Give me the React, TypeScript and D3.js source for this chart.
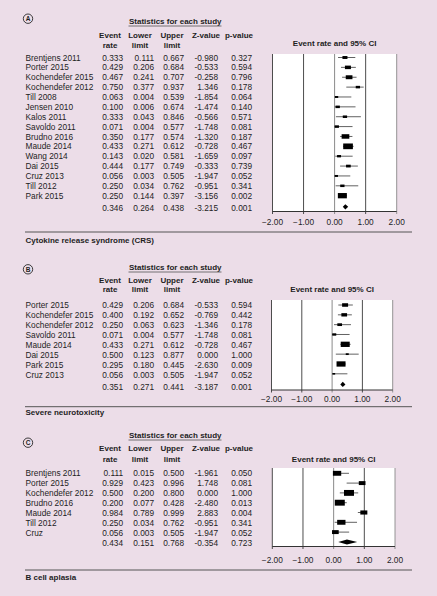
import React from 'react';
import * as d3 from 'd3';

// ---------- Data ----------
const studiesA = ['Brentjens 2011', 'Porter 2015', 'Kochendefer 2015', 'Kochendefer 2012', 'Till 2008', 'Jensen 2010', 'Kalos 2011', 'Savoldo 2011', 'Brudno 2016', 'Maude 2014', 'Wang 2014', 'Dai 2015', 'Cruz 2013', 'Till 2012', 'Park 2015'];
const rateA = [0.333, 0.429, 0.467, 0.75, 0.063, 0.1, 0.333, 0.071, 0.35, 0.433, 0.143, 0.444, 0.056, 0.25, 0.25];
const lowerA = [0.111, 0.206, 0.241, 0.377, 0.004, 0.006, 0.043, 0.004, 0.177, 0.271, 0.02, 0.177, 0.003, 0.034, 0.144];
const upperA = [0.667, 0.684, 0.707, 0.937, 0.539, 0.674, 0.846, 0.577, 0.574, 0.612, 0.581, 0.749, 0.505, 0.762, 0.397];
const zA = [-0.98, -0.533, -0.258, 1.346, -1.854, -1.474, -0.566, -1.748, -1.32, -0.728, -1.659, -0.333, -1.947, -0.951, -3.156];
const pA = [0.327, 0.594, 0.796, 0.178, 0.064, 0.14, 0.571, 0.081, 0.187, 0.467, 0.097, 0.739, 0.052, 0.341, 0.002];
const weightA = [5.0, 7.2, 9.0, 3.7, 2.2, 3.7, 3.7, 3.7, 11.9, 18.9, 3.2, 4.4, 2.2, 3.7, 16.3];
const summaryA = [0.346, 0.264, 0.438, -3.215, 0.001];

const studiesB = ['Porter 2015', 'Kochendefer 2015', 'Kochendefer 2012', 'Savoldo 2011', 'Maude 2014', 'Dai 2015', 'Park 2015', 'Cruz 2013'];
const rateB = [0.429, 0.4, 0.25, 0.071, 0.433, 0.5, 0.295, 0.056];
const lowerB = [0.206, 0.192, 0.063, 0.004, 0.271, 0.123, 0.18, 0.003];
const upperB = [0.684, 0.652, 0.623, 0.577, 0.612, 0.877, 0.445, 0.505];
const zB = [-0.533, -0.769, -1.346, -1.748, -0.728, 0.0, -2.63, -1.947];
const pB = [0.594, 0.442, 0.178, 0.081, 0.467, 1.0, 0.009, 0.052];
const weightB = [7.2, 6.5, 4.4, 3.2, 16.3, 1.8, 16.3, 1.5];
const summaryB = [0.351, 0.271, 0.441, -3.187, 0.001];

const studiesC = ['Brentjens 2011', 'Porter 2015', 'Kochendefer 2012', 'Brudno 2016', 'Maude 2014', 'Till 2012', 'Cruz'];
const rateC = [0.111, 0.929, 0.5, 0.2, 0.984, 0.25, 0.056];
const lowerC = [0.015, 0.423, 0.2, 0.077, 0.789, 0.034, 0.003];
const upperC = [0.5, 0.996, 0.8, 0.428, 0.999, 0.762, 0.505];
const zC = [-1.961, 1.748, 0.0, -2.48, 2.883, -0.951, -1.947];
const pC = [0.05, 0.081, 1.0, 0.013, 0.004, 0.341, 0.052];
const weightC = [13.9, 9.0, 20.1, 20.1, 9.9, 13.9, 9.0];
const summaryC = [0.434, 0.151, 0.768, -0.354, 0.723];

const axisTicks = [-2, -1, 0, 1, 2];
const panelLetters = ['A', 'B', 'C'];
const outcomeTitles = ['Cytokine release syndrome (CRS)', 'Severe neurotoxicity', 'B cell aplasia'];

// ---------- Layout ----------
const FONT = '"Liberation Sans", Arial, Helvetica, sans-serif';
const BG = '#ecdde8';
const TXT = '#1e1e1e';

const layouts = [
  { circle: 18.7, stats: 20.5, underline: 26, h1: 34.7, h2: 44.7, plotTitle: 43, boxTop: 54, row0: 57.5, textStep: 9.88, plotStep: 9.87, sumText: 208, sumPlot: 206.8, boxBottom: 211.5, tickLab: 221.7, sep: 232, title: 240, x0: 272.5, x1: 396.7 },
  { circle: 269.3, stats: 266.8, underline: 272, h1: 280, h2: 289.3, plotTitle: 289, boxTop: 300, row0: 305, textStep: 10, plotStep: 9.83, sumText: 387, sumPlot: 384.4, boxBottom: 390, tickLab: 399.2, sep: 406.7, title: 412.3, x0: 271.5, x1: 392.7 },
  { circle: 442.7, stats: 435, underline: 440, h1: 448.3, h2: 458.7, plotTitle: 459, boxTop: 468, row0: 473.3, textStep: 10, plotStep: 9.8, sumText: 543.3, sumPlot: 542, boxBottom: 546.5, tickLab: 560.3, sep: 570, title: 577, x0: 272.3, x1: 395 },
];

const colRight = { rate: 123, lower: 154, upper: 184, z: 218, p: 252 };
const headCenter = { rate: 110, lower: 140, upper: 172, z: 206, p: 239 };

const fmt = d3.format('.3f');
const fmtTick = d3.format('.2f');
const sizeScale = d3.scaleSqrt().domain([0, 100]).range([0, 22.3]);

type PanelData = {
  studies: string[]; rate: number[]; lower: number[]; upper: number[]; z: number[]; p: number[]; weight: number[]; summary: number[];
};

const panels: PanelData[] = [
  { studies: studiesA, rate: rateA, lower: lowerA, upper: upperA, z: zA, p: pA, weight: weightA, summary: summaryA },
  { studies: studiesB, rate: rateB, lower: lowerB, upper: upperB, z: zB, p: pB, weight: weightB, summary: summaryB },
  { studies: studiesC, rate: rateC, lower: lowerC, upper: upperC, z: zC, p: pC, weight: weightC, summary: summaryC },
];

function fmtZ(v: number) {
  return v < 0 ? '-' + fmt(-v) : fmt(v);
}

function Panel({ d, L, letter, title }: { d: PanelData; L: any; letter: string; title: string }) {
  const x = d3.scaleLinear().domain([-2, 2]).range([L.x0, L.x1]);
  const yText = (i: number) => L.row0 + i * L.textStep;
  const yPlot = (i: number) => L.row0 + i * L.plotStep;
  const base = 3.0; // baseline offset from visual center
  const numCell = (v: string, xr: number, y: number, key: string) => (
    <text key={key} x={xr} y={y + base} textAnchor="end">{v}</text>
  );
  const [sr, sl, su, sz, sp] = d.summary;
  const dx0 = x(sl), dx1 = x(su), dxm = x(sr), dy = L.sumPlot, dh = 2.6;
  return (
    <g>
      {/* Circled letter */}
      <circle cx={28} cy={L.circle} r={4.7} fill="none" stroke={TXT} strokeWidth={0.85} />
      <text x={28} y={L.circle + 2.3} textAnchor="middle" fontSize={6.5} fontWeight="bold" fill={TXT}>{letter}</text>

      {/* Table headers */}
      <g fontWeight="bold" fill={TXT}>
        <text x={129} y={L.stats + base}>Statistics for each study</text>
        <text x={headCenter.rate} y={L.h1 + base} textAnchor="middle">Event</text>
        <text x={headCenter.rate} y={L.h2 + base} textAnchor="middle">rate</text>
        <text x={headCenter.lower} y={L.h1 + base} textAnchor="middle">Lower</text>
        <text x={headCenter.lower} y={L.h2 + base} textAnchor="middle">limit</text>
        <text x={headCenter.upper} y={L.h1 + base} textAnchor="middle">Upper</text>
        <text x={headCenter.upper} y={L.h2 + base} textAnchor="middle">limit</text>
        <text x={headCenter.z} y={L.h1 + base} textAnchor="middle">Z-value</text>
        <text x={headCenter.p} y={L.h1 + base} textAnchor="middle">p-value</text>
        <text x={x(0)} y={L.plotTitle + base} textAnchor="middle">Event rate and 95% CI</text>
      </g>
      <line x1={128.5} x2={221.5} y1={L.underline} y2={L.underline} stroke="#555" strokeWidth={0.8} />

      {/* Table rows */}
      <g fill={TXT} fontSize={8.3}>
        {d.studies.map((s, i) => (
          <g key={s + i}>
            <text x={25.5} y={yText(i) + base}>{s}</text>
            {numCell(fmt(d.rate[i]), colRight.rate, yText(i), 'r')}
            {numCell(fmt(d.lower[i]), colRight.lower, yText(i), 'l')}
            {numCell(fmt(d.upper[i]), colRight.upper, yText(i), 'u')}
            {numCell(fmtZ(d.z[i]), colRight.z, yText(i), 'z')}
            {numCell(fmt(d.p[i]), colRight.p, yText(i), 'p')}
          </g>
        ))}
        {numCell(fmt(sr), colRight.rate, L.sumText, 'sr')}
        {numCell(fmt(sl), colRight.lower, L.sumText, 'sl')}
        {numCell(fmt(su), colRight.upper, L.sumText, 'su')}
        {numCell(fmtZ(sz), colRight.z, L.sumText, 'sz')}
        {numCell(fmt(sp), colRight.p, L.sumText, 'sp')}
      </g>

      {/* Plot box */}
      <rect x={x(-2)} y={L.boxTop} width={x(2) - x(-2)} height={L.boxBottom - L.boxTop} fill="#ffffff" />
      {axisTicks.map((t) => (
        <line key={'g' + t} x1={x(t)} x2={x(t)} y1={L.boxTop} y2={L.boxBottom + 2.5}
          stroke={t === 0 || t === 2 ? '#8a8a8a' : '#3a3a3a'} strokeWidth={t === 0 ? 1 : 0.9} />
      ))}
      <line x1={x(-2)} x2={x(2)} y1={L.boxBottom} y2={L.boxBottom} stroke="#333" strokeWidth={1} />
      {axisTicks.map((t) => (
        <text key={'t' + t} x={x(t)} y={L.tickLab + base} textAnchor="middle" fill={TXT} fontSize={8.3}>{fmtTick(t)}</text>
      ))}

      {/* Study markers */}
      {d.studies.map((s, i) => {
        const w = sizeScale(d.weight[i]);
        const h = w / 1.7;
        const cy = yPlot(i);
        return (
          <g key={'m' + i}>
            <line x1={x(d.lower[i])} x2={x(d.upper[i])} y1={cy} y2={cy} stroke="#3a3a3a" strokeWidth={0.8} />
            <rect x={x(d.rate[i]) - w / 2} y={cy - h / 2} width={w} height={h} fill="#000" />
          </g>
        );
      })}
      <path d={`M${dx0},${dy} L${dxm},${dy - dh} L${dx1},${dy} L${dxm},${dy + dh} Z`} fill="#000" />

      {/* Separator + outcome title */}
      <line x1={25} x2={412} y1={L.sep} y2={L.sep} stroke="#555" strokeWidth={1} />
      <text x={25.5} y={L.title + base} fontWeight="bold" fill={TXT}>{title}</text>
    </g>
  );
}

export default function App() {
  return (
    <svg width={437} height={596} style={{ position: 'absolute', left: 0, top: 0 }} fontFamily={FONT} fontSize={8}>
      <rect x={0} y={0} width={437} height={596} fill={BG} />
      {panels.map((d, k) => (
        <Panel key={k} d={d} L={layouts[k]} letter={panelLetters[k]} title={outcomeTitles[k]} />
      ))}
    </svg>
  );
}
